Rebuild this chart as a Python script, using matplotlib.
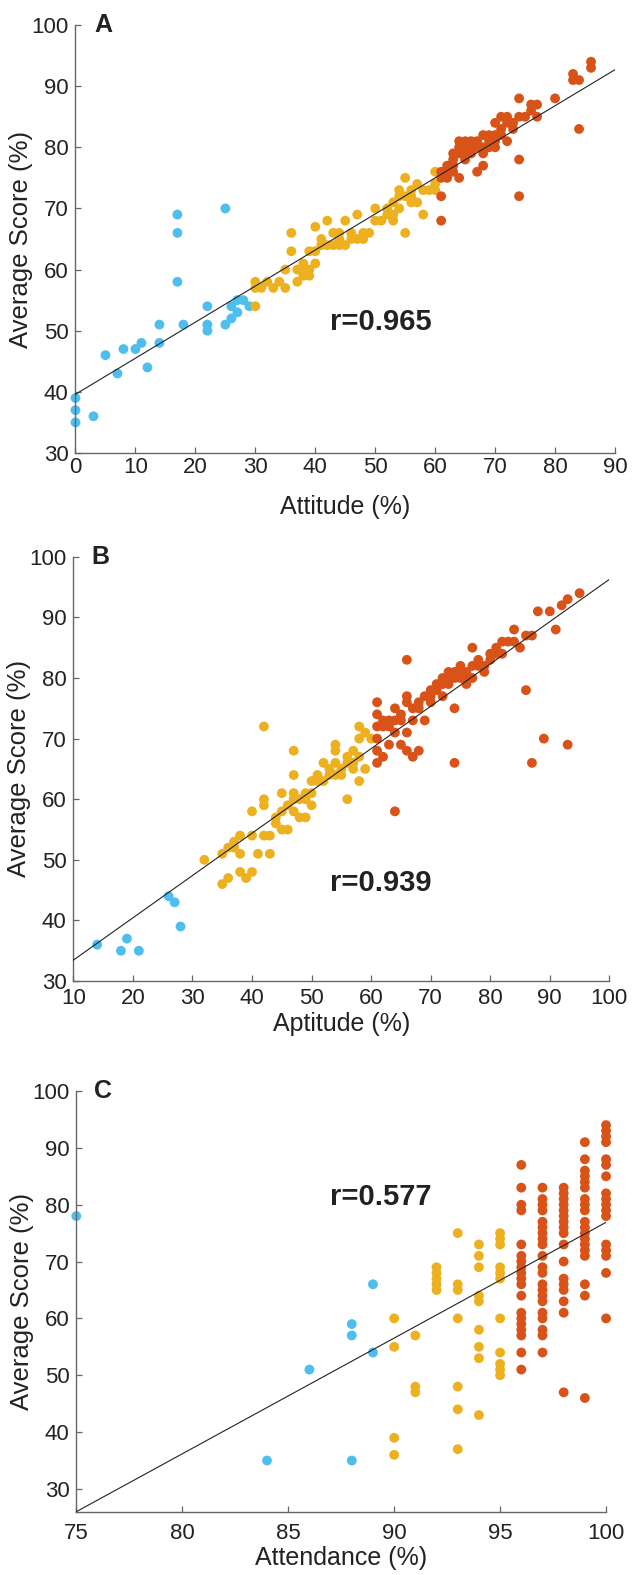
import matplotlib
matplotlib.use('Agg')
import matplotlib.pyplot as plt
import numpy as np

plt.rcParams['font.family'] = ['Liberation Sans', 'DejaVu Sans']

# colours (low / mid / high groups)
c_low = '#4DBEEE'
c_mid = '#EDB120'
c_high = '#D95319'

# ---- A: Attitude ----
a_low_x = [0, 0, 0, 3, 5, 7, 8, 10, 11, 12, 14, 14, 17, 17, 17, 18, 22, 22, 22, 25, 25, 26, 26, 27, 27, 28, 29]
a_low_y = [39, 37, 35, 36, 46, 43, 47, 47, 48, 44, 51, 48, 69, 66, 58, 51, 54, 51, 50, 70, 51, 52, 54, 53, 55, 55, 54]
a_mid_x = [30, 30, 30, 31, 32, 33, 35, 35, 36, 36, 37, 37, 38, 38, 39, 39, 39, 40, 40, 40, 41, 42, 42, 43, 44, 44,
           45, 45, 46, 47, 47, 48, 50, 50, 51, 52, 53, 53, 54, 54, 55, 55, 55, 56, 56, 57, 57, 58, 58, 60, 60, 60,
           49, 46, 43, 41, 44, 38, 34, 52, 54, 56, 59, 53, 48]
a_mid_y = [58, 57, 54, 57, 58, 57, 60, 57, 66, 63, 58, 60, 61, 59, 59, 60, 63, 61, 63, 67, 65, 64, 68, 66, 65, 64,
           68, 64, 66, 69, 65, 65, 70, 68, 68, 69, 68, 71, 73, 70, 75, 72, 66, 73, 71, 74, 71, 73, 69, 76, 74, 73,
           66, 65, 64, 64, 66, 60, 58, 70, 72, 72, 73, 69, 66]
a_high_x = [61, 61, 61, 62, 62, 63, 63, 64, 64, 65, 65, 66, 67, 67, 68, 68, 69, 69, 70, 70, 71, 71, 72, 72, 73,
            74, 74, 74, 74, 76, 77, 76, 77, 80, 83, 84, 83, 84, 86, 86,
            62, 63, 64, 65, 66, 66, 67, 68, 69, 70, 70, 71, 72, 73, 75, 64, 68, 65, 63, 61]
a_high_y = [72, 68, 75, 77, 75, 79, 77, 81, 75, 81, 79, 80, 81, 76, 82, 77, 82, 80, 84, 81, 85, 83, 85, 81, 83,
            88, 85, 78, 72, 87, 87, 86, 85, 88, 92, 91, 91, 83, 94, 93,
            76, 78, 80, 80, 79, 81, 80, 80, 81, 80, 82, 82, 84, 84, 85, 79, 79, 78, 76, 76]
fit_a = (0.59, 39.6)   # slope, intercept

# ---- B: Aptitude ----
b_low_x = [14, 18, 19, 21, 26, 27, 28]
b_low_y = [36, 35, 37, 35, 44, 43, 39]
b_mid_x = [32, 35, 35, 36, 36, 37, 38, 38, 38, 39, 40, 40, 40, 41, 42, 42, 42, 42, 43, 43, 44, 45, 45, 45, 46,
           47, 47, 47, 47, 47, 48, 49, 49, 49, 50, 50, 50, 51, 52, 52, 53, 54, 54, 54, 54, 55, 56, 56, 57, 57,
           58, 58, 58, 59, 59, 60, 56, 55, 53, 51, 57, 58, 46, 48, 44, 37]
b_mid_y = [50, 51, 46, 52, 47, 53, 54, 51, 48, 47, 54, 58, 48, 51, 72, 60, 59, 54, 54, 51, 57, 61, 58, 55, 55,
           68, 64, 61, 60, 58, 57, 57, 61, 60, 63, 61, 59, 64, 66, 63, 65, 69, 68, 66, 64, 65, 60, 67, 68, 65,
           72, 70, 63, 65, 71, 70, 66, 64, 64, 63, 66, 67, 59, 60, 56, 52]
b_high_x = [61, 61, 61, 61, 61, 62, 63, 63, 64, 64, 64, 65, 66, 66, 66, 66, 66, 67, 67, 68, 68, 69, 70, 70, 72,
            72, 73, 73, 74, 74, 75, 75, 76, 77, 77, 78, 79, 80, 81, 82, 82, 84, 84, 85, 86, 87, 86, 87, 88, 89,
            90, 91, 92, 93, 93, 95,
            71, 74, 65, 63, 62, 68, 69, 72, 77, 78, 76, 79, 83, 62, 64, 67, 70, 71, 73, 74, 75, 76, 80, 81, 61, 65]
b_high_y = [76, 72, 70, 68, 66, 67, 73, 69, 75, 71, 58, 69, 83, 77, 76, 71, 68, 73, 67, 76, 68, 73, 78, 76, 79,
            77, 81, 80, 75, 66, 82, 80, 79, 85, 82, 83, 81, 83, 85, 86, 84, 88, 86, 85, 87, 87, 78, 66, 91, 70,
            91, 88, 92, 93, 69, 94,
            78, 81, 73, 72, 73, 75, 77, 80, 80, 82, 81, 82, 86, 72, 73, 75, 77, 79, 79, 80, 81, 80, 84, 84, 74, 74]
fit_b = (0.698, 26.47)

# ---- C: Attendance ----
c_low_x = [75, 84, 86, 88, 88, 88, 89, 89]
c_low_y = [78, 35, 51, 59, 57, 35, 66, 54]
c_mid_x = [90, 90, 90, 90, 91, 91, 91, 92, 92, 92, 92, 92, 93, 93, 93, 93, 93, 93, 93,
           94, 94, 94, 94, 94, 94, 94, 94, 94, 95, 95, 95, 95, 95, 95, 95, 95, 95, 95, 95]
c_mid_y = [60, 55, 39, 36, 57, 48, 47, 69, 68, 67, 66, 65, 75, 66, 65, 60, 48, 44, 37,
           73, 71, 69, 64, 63, 58, 55, 53, 43, 75, 74, 73, 69, 68, 67, 60, 54, 52, 51, 50]
# high group, one column per attendance value
c96 = [87, 83, 80, 79, 73, 71, 70, 69, 68, 67, 66, 64, 61, 60, 59, 58, 57, 54, 51]
c97 = [83, 81, 80, 79, 77, 76, 75, 74, 73, 71, 69, 68, 66, 65, 64, 63, 61, 60, 58, 57, 54]
c98 = [83, 82, 81, 80, 79, 78, 77, 76, 75, 73, 70, 67, 66, 65, 63, 61, 47]
c99 = [91, 88, 86, 85, 84, 83, 81, 80, 79, 77, 76, 75, 74, 73, 72, 71, 66, 64, 46]
c100 = [94, 93, 92, 91, 88, 87, 85, 82, 81, 80, 79, 78, 73, 72, 71, 68, 60]
c_high_x = [96] * len(c96) + [97] * len(c97) + [98] * len(c98) + [99] * len(c99) + [100] * len(c100)
c_high_y = c96 + c97 + c98 + c99 + c100
fit_c = (2.036, -126.7)


def panel(ax, lo, mid, hi, fit, xlim, ylim, xticks, xlabel, letter, rtext, rpos, xpad, xlpad):
    for (xs, ys), col in zip([lo, mid, hi], [c_low, c_mid, c_high]):
        ax.scatter(xs, ys, s=50, color=col, edgecolors='none', clip_on=False, zorder=2)
    xx = np.array(xlim, dtype=float)
    ax.plot(xx, fit[0] * xx + fit[1], color='#222222', lw=0.8, zorder=3)
    ax.set_xlim(xlim)
    ax.set_ylim(ylim)
    ax.set_xticks(xticks)
    ax.set_yticks(np.arange(30, 101, 10))
    for s in ['top', 'right']:
        ax.spines[s].set_visible(False)
    for s in ['left', 'bottom']:
        ax.spines[s].set_color('#666666')
        ax.spines[s].set_linewidth(1.0)
    ax.tick_params(direction='in', length=4, width=0.9, color='#666666',
                   labelsize=16, labelcolor='#222222', pad=5)
    ax.tick_params(axis='x', pad=xpad)
    ax.set_xlabel(xlabel, fontsize=18, color='#222222', labelpad=xlpad)
    ax.set_ylabel('Average Score (%)', fontsize=18.5, color='#222222', labelpad=-1)
    ax.text(0.051, 1.0, letter, transform=ax.transAxes, fontsize=18, fontweight='bold',
            color='#222222', ha='center', va='center')
    ax.text(rpos[0], rpos[1], rtext, transform=ax.transAxes, fontsize=21, fontweight='bold',
            color='#222222', ha='center', va='center')


fig = plt.figure(figsize=(6.36, 15.75), dpi=100)
ax1 = fig.add_axes([0.1187, 0.7124, 0.8483, 0.2717])
ax2 = fig.add_axes([0.1153, 0.3771, 0.8428, 0.2694])
ax3 = fig.add_axes([0.1200, 0.0402, 0.8329, 0.2671])

panel(ax1, (a_low_x, a_low_y), (a_mid_x, a_mid_y), (a_high_x, a_high_y), fit_a,
      (0, 90), (30, 100), np.arange(0, 91, 10), 'Attitude (%)', 'A', 'r=0.965', (0.566, 0.306), 3, 12)
panel(ax2, (b_low_x, b_low_y), (b_mid_x, b_mid_y), (b_high_x, b_high_y), fit_b,
      (10, 100), (30, 100), np.arange(10, 101, 10), 'Aptitude (%)', 'B', 'r=0.939', (0.573, 0.231), 4.8, 2.2)
panel(ax3, (c_low_x, c_low_y), (c_mid_x, c_mid_y), (c_high_x, c_high_y), fit_c,
      (75, 100), (26, 100), np.arange(75, 101, 5), 'Attendance (%)', 'C', 'r=0.577', (0.574, 0.747), 8, 1.5)

plt.savefig('out.png', dpi=100)
